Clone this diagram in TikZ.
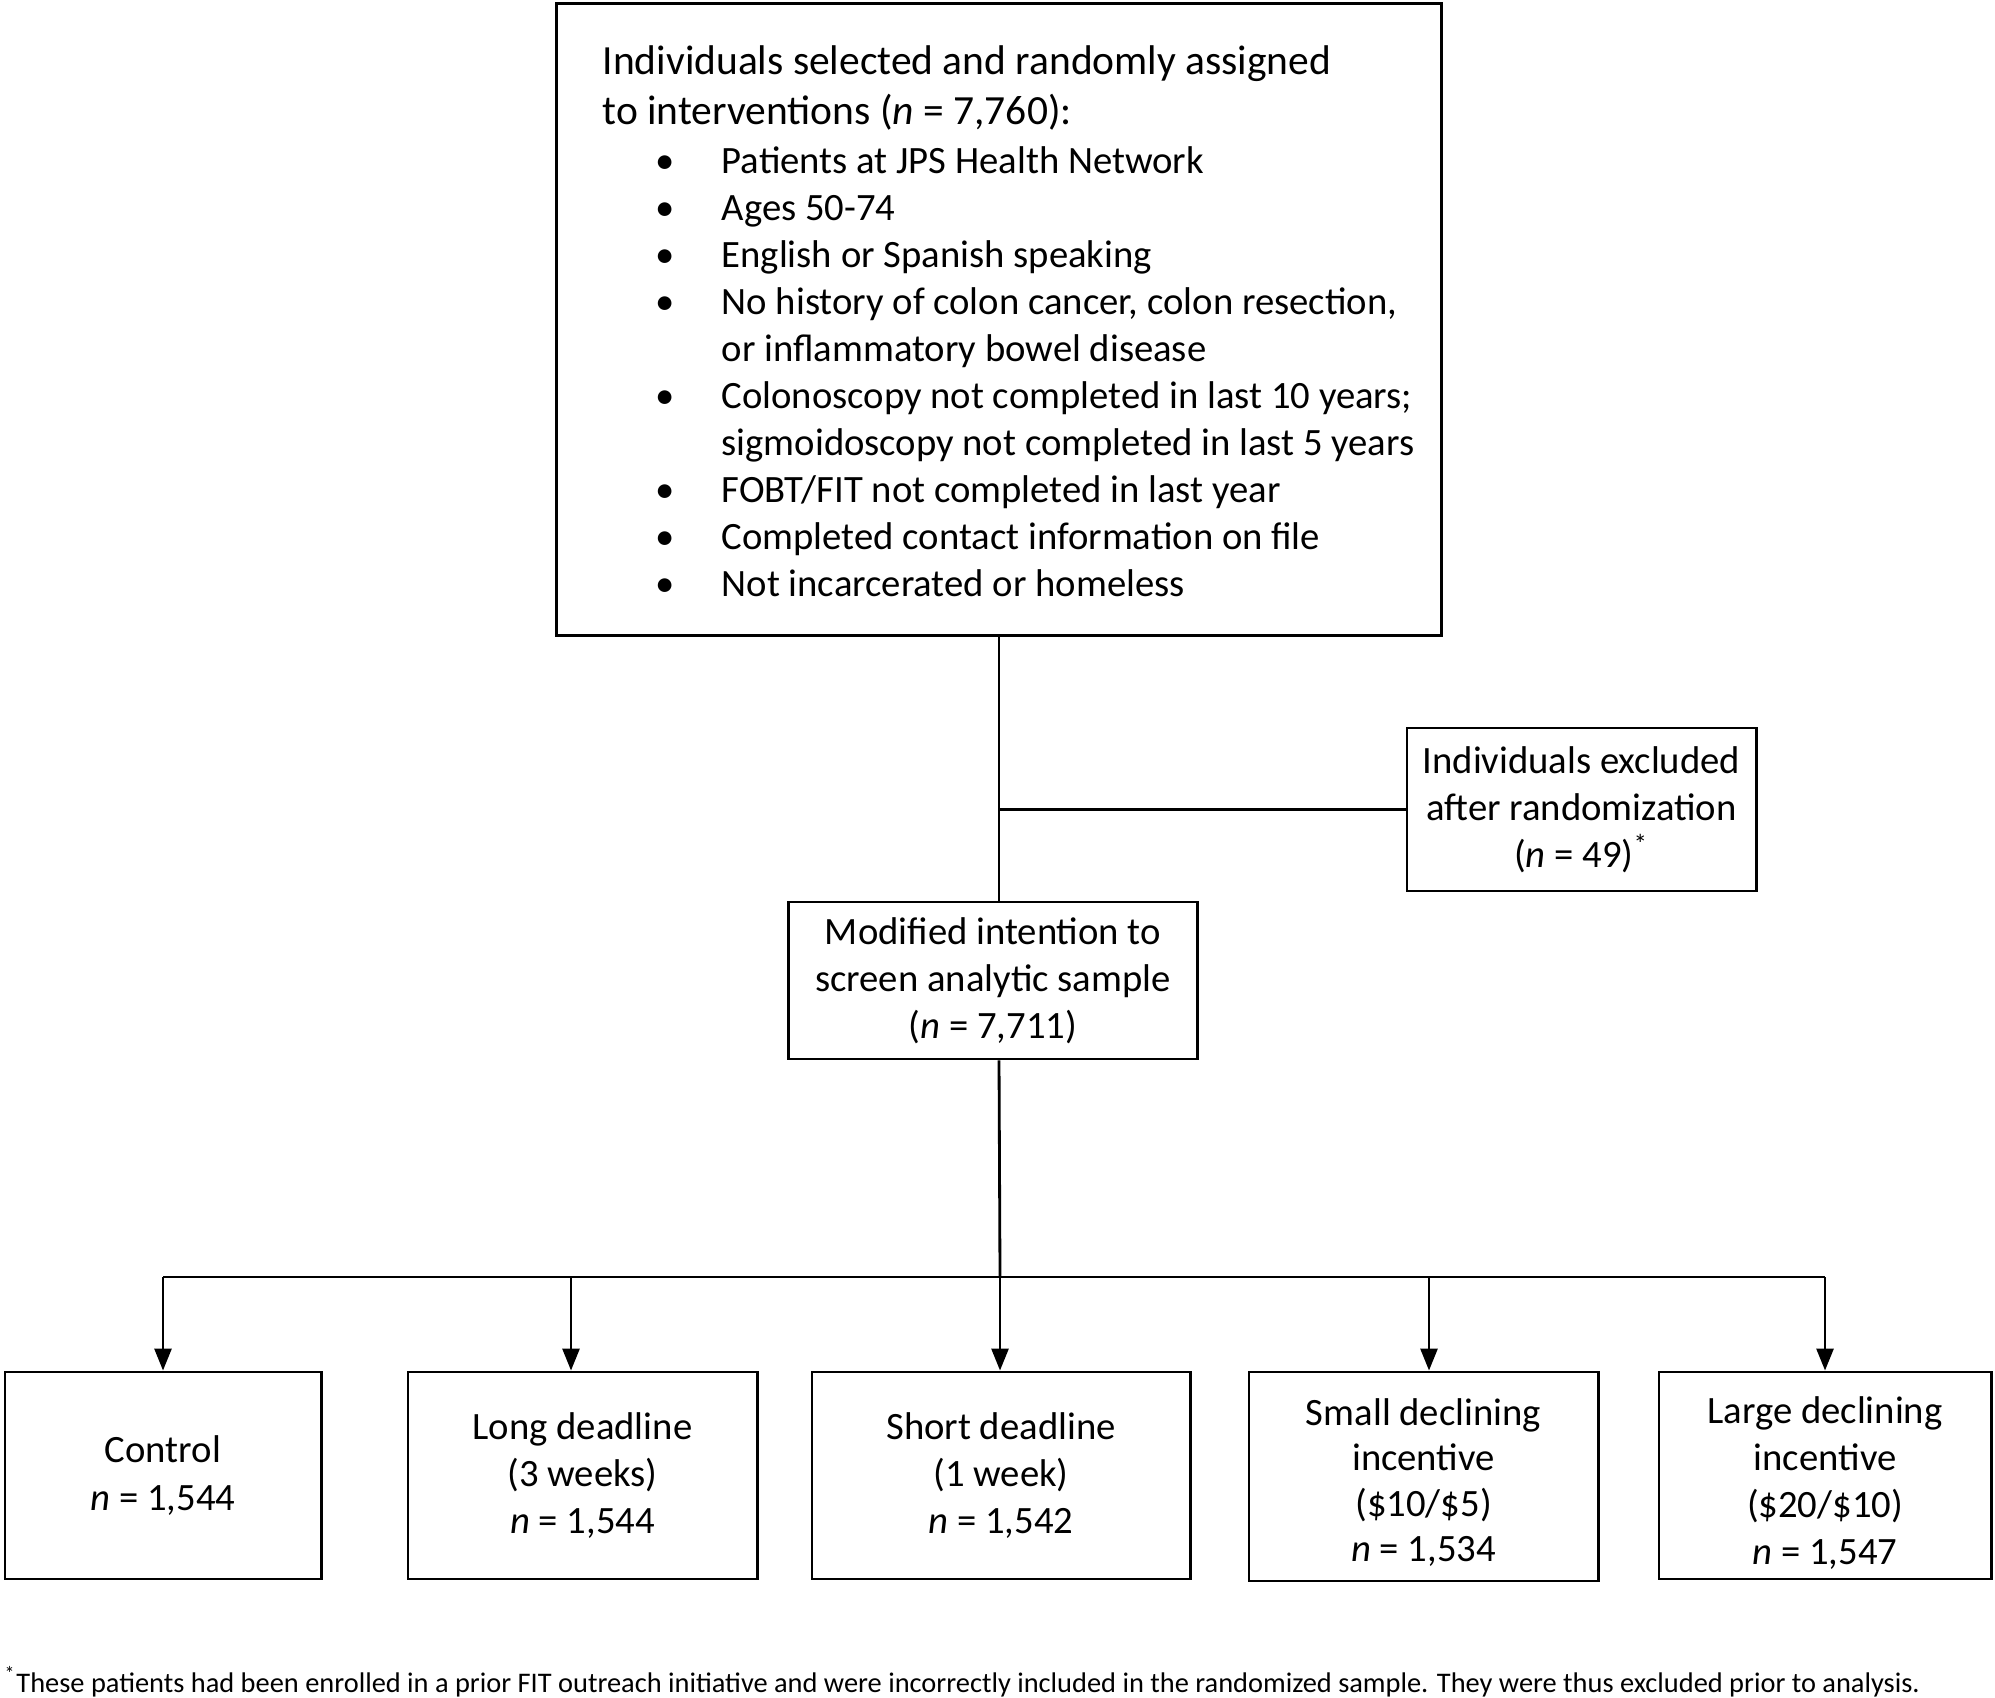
\documentclass[tikz,border=0pt]{standalone}
\usepackage{fontspec}
\usepackage{graphicx}
\setmainfont{Carlito}
\usetikzlibrary{arrows.meta,positioning,calc}

\begin{document}
\begin{tikzpicture}[x=0.01cm,y=-0.01cm,
  box/.style={draw,line width=0.8pt,inner sep=0pt,align=center,font=\fontsize{11}{13.4}\selectfont},
  txt/.style={font=\fontsize{11}{13.4}\selectfont,inner sep=0pt,anchor=base west},
  head/.style={txt,font=\fontsize{11.8}{13.4}\selectfont},
  link/.style={line width=0.8pt},
  flow/.style={line width=0.8pt,-{Triangle[length=0.22cm,width=0.17cm]}}]
\useasboundingbox (0,0) rectangle (1995,1698);

\node[box,minimum width=8.84cm,minimum height=6.31cm] (sel) at (999,319.5) {};
\node[head] (selA) at (602,75) {Individuals selected and randomly assigned};
\node[head] (selB) at (602,125) {to interventions (\textit{n} = 7,760):};
\foreach \lab/\b [count=\i from 0] in {Patients at JPS Health Network/1,Ages 50-74/1,English or Spanish speaking/1,
  {No history of colon cancer, colon resection,}/1,or inflammatory bowel disease/0,
  {Colonoscopy not completed in last 10 years;}/1,sigmoidoscopy not completed in last 5 years/0,
  {FOBT/FIT not completed in last year}/1,Completed contact information on file/1,Not incarcerated or homeless/1}{
  \pgfmathsetmacro{\yy}{174+47*\i}
  \ifnum\b=1 \node[txt,anchor=base] (bul\i) at (665,\yy) {\textbullet}; \fi
  \node[txt] (crit\i) at (721,\yy) {\lab};
}

\node[box,minimum width=3.49cm,minimum height=1.63cm] (excl) at (1581.5,809.5) {Individuals excluded\\after randomization\\(\textit{n} = 49)\textsuperscript{*}};
\node[box,minimum width=4.08cm,minimum height=1.57cm] (mod) at (993,980.5) {Modified intention to\\screen analytic sample\\(\textit{n} = 7,711)};

\node[box,minimum width=3.16cm,minimum height=2.07cm] (ctrl) at (163,1475.5) {Control\\\textit{n} = 1,544};
\node[box,minimum width=3.49cm,minimum height=2.07cm] (long) at (582.5,1475.5) {Long deadline\\(3 weeks)\\\textit{n} = 1,544};
\node[box,minimum width=3.78cm,minimum height=2.07cm] (short) at (1001,1475.5) {Short deadline\\(1 week)\\\textit{n} = 1,542};
\node[box,minimum width=3.49cm,minimum height=2.09cm] (small) at (1423.5,1476.5) {\fontsize{11}{12.9}\selectfont\raisebox{-0.08cm}[\height][\depth]{\begin{tabular}{@{}c@{}}Small declining\\incentive\\(\$10/\$5)\\\textit{n} = 1,534\end{tabular}}};
\node[box,minimum width=3.32cm,minimum height=2.07cm] (large) at (1825,1475.5) {\fontsize{11}{13.3}\selectfont\raisebox{-0.09cm}[\height][\depth]{\begin{tabular}{@{}c@{}}Large declining\\incentive\\(\$20/\$10)\\\textit{n} = 1,547\end{tabular}}};

\draw[link] (sel.south) -- (sel.south |- mod.north);
\draw[link] (sel.south |- excl.west) -- (excl.west);
\foreach \g/\ax in {ctrl/163,long/571,short/1000,small/1429,large/1825}
  \coordinate (t\g) at (\ax,1277);
\draw[link] (sel.south |- mod.south) -- (tshort);
\draw[link] (tctrl) -- (tlarge);
\foreach \g in {ctrl,long,short,small,large}
  \draw[flow] (t\g) -- (t\g |- \g.north);

\node[anchor=base west,inner sep=0pt] (note) at (4,1692) {\resizebox{19.14cm}{!}{\fontsize{7.5}{9}\selectfont\textsuperscript{*}These patients had been enrolled in a prior FIT outreach initiative and were incorrectly included in the randomized sample. They were thus excluded prior to analysis.}};
\end{tikzpicture}
\end{document}
